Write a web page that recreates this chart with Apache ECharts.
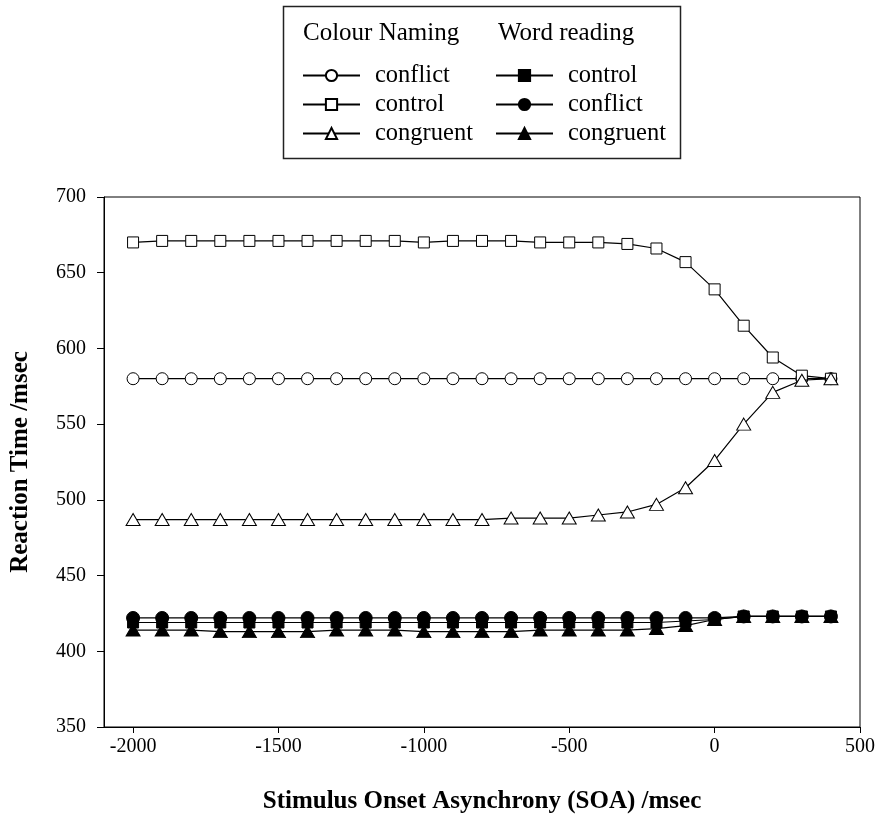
<!DOCTYPE html>
<html><head><meta charset="utf-8">
<script src="https://cdn.jsdelivr.net/npm/echarts@6/dist/echarts.min.js"></script>
<style>html,body{margin:0;padding:0;background:#fff}#c{width:881px;height:823px}</style>
</head><body><div id="c"></div>
<script>
// SOA values (msec)
const soa = [-2000,-1900,-1800,-1700,-1600,-1500,-1400,-1300,-1200,-1100,-1000,-900,-800,-700,-600,-500,-400,-300,-200,-100,0,100,200,300,400];
// Colour naming
const cnConflict  = [580,580,580,580,580,580,580,580,580,580,580,580,580,580,580,580,580,580,580,580,580,580,580,580,580];
const cnControl   = [670,671,671,671,671,671,671,671,671,671,670,671,671,671,670,670,670,669,666,657,639,615,594,582,580];
const cnCongruent = [487,487,487,487,487,487,487,487,487,487,487,487,487,488,488,488,490,492,497,508,526,550,571,579,580];
// Word reading
const wrControl   = [419,419,419,419,419,419,419,419,419,419,419,419,419,419,419,419,419,419,419,420,421,423,423,423,423];
const wrConflict  = [422,422,422,422,422,422,422,422,422,422,422,422,422,422,422,422,422,422,422,422,422,423,423,423,423];
const wrCongruent = [414,414,414,413,413,413,413,414,414,414,413,413,413,413,414,414,414,414,415,417,421,423,423,423,423];
// Tick labels
const xTicks = [-2000,-1500,-1000,-500,0,500];
const yTicks = [350,400,450,500,550,600,650,700];

const FONT = '"Liberation Serif", "Times New Roman", serif';

function mk(name, data, symbol, size, filled, z) {
  return {
    name: name, type: 'line', data: soa.map((x, i) => [x, data[i]]),
    symbol: symbol, symbolSize: size, showSymbol: true, z: z,
    lineStyle: { color: '#000', width: 1.2 },
    itemStyle: { color: filled ? '#000' : '#fff', borderColor: '#000', borderWidth: 1 },
    emphasis: { disabled: true }, animation: false
  };
}

const chart = echarts.init(document.getElementById('c'));
const legendCommon = {
  orient: 'vertical', itemWidth: 57, itemHeight: 14, itemGap: 4, padding: 0, selectedMode: false,
  formatter: n => n.split('_')[1],
  textStyle: { fontFamily: FONT, fontSize: 24.5, color: '#000', lineHeight: 24, padding: [0, 0, 0, 10] }
};
chart.setOption({
  animation: false,
  backgroundColor: '#fff',
  grid: { left: 104, right: 21, top: 197, bottom: 96, show: true, borderColor: '#000', borderWidth: 1 },
  legend: [
    Object.assign({ left: 302, top: 63, data: ['cn_conflict', 'cn_control', 'cn_congruent'] }, legendCommon),
    Object.assign({ left: 495, top: 63, data: ['wr_control', 'wr_conflict', 'wr_congruent'] }, legendCommon)
  ],
  graphic: [
    { type: 'rect', shape: { x: 283.5, y: 6.5, width: 397, height: 152 }, style: { fill: 'none', stroke: '#222', lineWidth: 1.5 }, z: -1 },
    { type: 'text', x: 303, y: 33, style: { text: 'Colour Naming', font: '25px ' + FONT, fill: '#000', verticalAlign: 'middle' } },
    { type: 'text', x: 498, y: 33, style: { text: 'Word reading', font: '25px ' + FONT, fill: '#000', verticalAlign: 'middle' } }
  ],
  xAxis: {
    type: 'value', min: -2100, max: 500,
    axisLine: { show: true, onZero: false, lineStyle: { color: '#000', width: 1 } },
    axisTick: { show: true, inside: false, length: 6, customValues: xTicks, lineStyle: { color: '#000' } },
    axisLabel: { customValues: xTicks, formatter: v => String(v), margin: 10, fontFamily: FONT, fontSize: 20, color: '#000' },
    splitLine: { show: false },
    name: 'Stimulus Onset Asynchrony (SOA) /msec', nameLocation: 'middle', nameGap: 62,
    nameTextStyle: { fontFamily: FONT, fontSize: 25, fontWeight: 'bold', color: '#000' }
  },
  yAxis: {
    type: 'value', min: 350, max: 700, interval: 50,
    axisLine: { show: true, onZero: false, lineStyle: { color: '#000', width: 1 } },
    axisTick: { show: true, inside: false, length: 7, lineStyle: { color: '#000' } },
    axisLabel: { formatter: v => String(v), margin: 18, fontFamily: FONT, fontSize: 20, color: '#000' },
    splitLine: { show: false },
    name: 'Reaction Time /msec', nameLocation: 'middle', nameGap: 71, nameRotate: 90,
    nameTextStyle: { fontFamily: FONT, fontSize: 25, fontWeight: 'bold', color: '#000' }
  },
  series: [
    mk('wr_congruent', wrCongruent, 'triangle', [14, 12], true, 2),
    mk('wr_control', wrControl, 'rect', 11, true, 3),
    mk('wr_conflict', wrConflict, 'circle', 13, true, 4),
    mk('cn_conflict', cnConflict, 'circle', 12, false, 5),
    mk('cn_control', cnControl, 'rect', 11, false, 6),
    mk('cn_congruent', cnCongruent, 'triangle', [14, 12], false, 7)
  ]
});
</script></body></html>
